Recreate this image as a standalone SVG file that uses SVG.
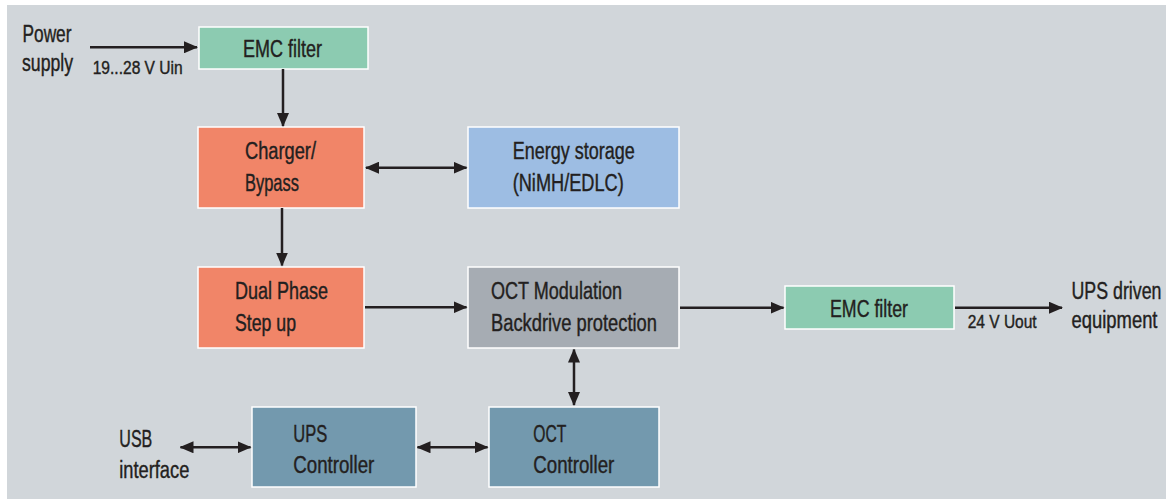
<svg xmlns="http://www.w3.org/2000/svg" width="1166" height="499" viewBox="0 0 1166 499">
<defs>
<style>
.box{stroke:#ffffff;stroke-width:1.5}
.green{fill:#8ccbb1}
.orange{fill:#f18568}
.blue{fill:#9dbde3}
.gray{fill:#a6acb3}
.teal{fill:#7399ae}
text{font-family:"Liberation Sans",Arial,sans-serif;fill:#231f20;stroke:#231f20;stroke-width:0.4}
.lbl{font-size:23px}
.sm{font-size:18px}
.wire{stroke:#231f20;stroke-width:2.5;fill:none}
</style>
<marker id="ah" viewBox="0 0 14 12" refX="13" refY="6" markerWidth="14" markerHeight="12" markerUnits="userSpaceOnUse" orient="auto-start-reverse">
<path d="M0,0 L14,6 L0,12 z" fill="#231f20"/>
</marker>
</defs>
<rect x="0" y="0" width="1166" height="499" fill="#ffffff"/>
<rect x="7" y="5" width="1159" height="494" fill="#d1d6da"/>

<g id="power-supply">
<text class="lbl" x="22.5" y="41.5" textLength="49" lengthAdjust="spacingAndGlyphs">Power</text>
<text class="lbl" x="22" y="71" textLength="51" lengthAdjust="spacingAndGlyphs">supply</text>
</g>
<g id="emc-filter-in">
<rect class="box green" x="199" y="27" width="169" height="42"/>
<text class="lbl" x="243" y="57.3" textLength="79" lengthAdjust="spacingAndGlyphs">EMC filter</text>
</g>
<g id="charger">
<rect class="box orange" x="198" y="127" width="166" height="81"/>
<text class="lbl" x="245" y="159.3" textLength="71" lengthAdjust="spacingAndGlyphs">Charger/</text>
<text class="lbl" x="245" y="191" textLength="54" lengthAdjust="spacingAndGlyphs">Bypass</text>
</g>
<g id="energy-storage">
<rect class="box blue" x="468" y="127" width="211" height="81"/>
<text class="lbl" x="512.7" y="159.3" textLength="122" lengthAdjust="spacingAndGlyphs">Energy storage</text>
<text class="lbl" x="512.7" y="191" textLength="111" lengthAdjust="spacingAndGlyphs">(NiMH/EDLC)</text>
</g>
<g id="dual-phase">
<rect class="box orange" x="198" y="267" width="166" height="81"/>
<text class="lbl" x="235" y="299" textLength="93" lengthAdjust="spacingAndGlyphs">Dual Phase</text>
<text class="lbl" x="235" y="330.7" textLength="61" lengthAdjust="spacingAndGlyphs">Step up</text>
</g>
<g id="oct-modulation">
<rect class="box gray" x="468" y="267" width="211" height="81"/>
<text class="lbl" x="491" y="299" textLength="131" lengthAdjust="spacingAndGlyphs">OCT Modulation</text>
<text class="lbl" x="491" y="330.7" textLength="166" lengthAdjust="spacingAndGlyphs">Backdrive protection</text>
</g>
<g id="emc-filter-out">
<rect class="box green" x="785" y="286" width="169" height="43"/>
<text class="lbl" x="830" y="317.3" textLength="78" lengthAdjust="spacingAndGlyphs">EMC filter</text>
</g>
<g id="ups-driven">
<text class="lbl" x="1071.5" y="299.3" textLength="90" lengthAdjust="spacingAndGlyphs">UPS driven</text>
<text class="lbl" x="1071.5" y="327.7" textLength="86" lengthAdjust="spacingAndGlyphs">equipment</text>
</g>
<g id="usb-interface">
<text class="lbl" x="119.3" y="447.3" textLength="33" lengthAdjust="spacingAndGlyphs">USB</text>
<text class="lbl" x="119.3" y="478.3" textLength="70" lengthAdjust="spacingAndGlyphs">interface</text>
</g>
<g id="ups-controller">
<rect class="box teal" x="252" y="407" width="164" height="80"/>
<text class="lbl" x="293.3" y="441.7" textLength="34" lengthAdjust="spacingAndGlyphs">UPS</text>
<text class="lbl" x="293.3" y="473.3" textLength="81" lengthAdjust="spacingAndGlyphs">Controller</text>
</g>
<g id="oct-controller">
<rect class="box teal" x="489" y="407" width="170" height="80"/>
<text class="lbl" x="533.3" y="441.7" textLength="33" lengthAdjust="spacingAndGlyphs">OCT</text>
<text class="lbl" x="533.3" y="473.3" textLength="81" lengthAdjust="spacingAndGlyphs">Controller</text>
</g>

<g id="connectors">
<line class="wire" x1="90" y1="47.3" x2="197" y2="47.3" marker-end="url(#ah)"/>
<text class="sm" x="92.7" y="74" textLength="90" lengthAdjust="spacingAndGlyphs">19...28 V  Uin</text>
<line class="wire" x1="283" y1="69" x2="283" y2="126" marker-end="url(#ah)"/>
<line class="wire" x1="366" y1="167.7" x2="466.5" y2="167.7" marker-start="url(#ah)" marker-end="url(#ah)"/>
<line class="wire" x1="282" y1="208" x2="282" y2="265.5" marker-end="url(#ah)"/>
<line class="wire" x1="365" y1="307.3" x2="466.5" y2="307.3" marker-end="url(#ah)"/>
<line class="wire" x1="680" y1="307.7" x2="783.5" y2="307.7" marker-end="url(#ah)"/>
<line class="wire" x1="955" y1="307.7" x2="1062" y2="307.7" marker-end="url(#ah)"/>
<text class="sm" x="967.7" y="328.3" textLength="69" lengthAdjust="spacingAndGlyphs">24 V  Uout</text>
<line class="wire" x1="574" y1="349.5" x2="574" y2="405" marker-start="url(#ah)" marker-end="url(#ah)"/>
<line class="wire" x1="180.5" y1="447.3" x2="250.5" y2="447.3" marker-start="url(#ah)" marker-end="url(#ah)"/>
<line class="wire" x1="417.5" y1="447.3" x2="487.5" y2="447.3" marker-start="url(#ah)" marker-end="url(#ah)"/>
</g>
</svg>
